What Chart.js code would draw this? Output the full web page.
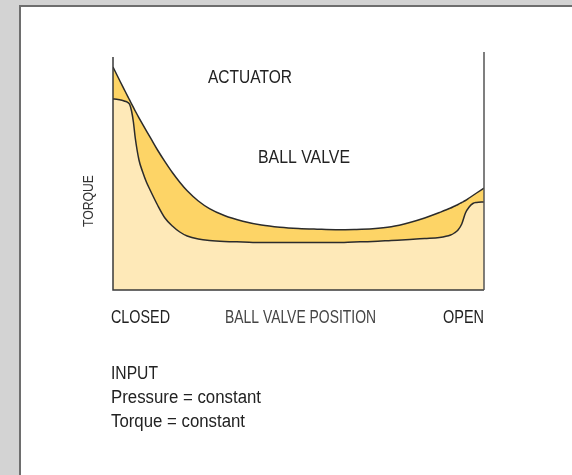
<!DOCTYPE html>
<html>
<head>
<meta charset="utf-8">
<script src="https://cdn.jsdelivr.net/npm/chart.js@4/dist/chart.umd.min.js"></script>
<style>
  html, body { margin: 0; padding: 0; background: #d3d3d3; }
  canvas { display: block; }
</style>
</head>
<body>
<canvas id="torqueChart" width="572" height="475"></canvas>
<script>
// valve position in % of travel, closed -> open
const positions = [0, 1, 2, 3, 4, 4.5, 5, 5.5, 6, 7, 8, 9, 10, 12, 14, 16, 18, 20, 23, 26,
    30, 35, 40, 45, 50, 55, 60, 65, 70, 75, 80, 84, 88, 91, 92, 93, 94, 95, 96, 97, 98, 100];
// torque (arbitrary units, 0 at the base line)
const actuatorTorque = [223, 215.5, 208, 200.7, 193.4, 189.8, 186.2, 182.6, 179, 172.2, 165.6, 159.1, 152.8, 140, 128.4, 117.5, 107.8, 99.2, 89, 81.4,
    74.5, 68.8, 65, 62.8, 61.5, 60.8, 60.3, 60.5, 61.2, 63.2, 67.5, 72, 77.5, 82, 83.8, 85.5, 87.5, 89.5, 92, 94.5, 97, 102];
const ballValveTorque = [191, 190.8, 190, 189, 187.5, 185.5, 179, 168, 152, 130, 118, 108, 100, 85, 72, 64, 58, 54, 51, 49.5,
    48.5, 48, 47.5, 47.5, 47.5, 47.5, 47.5, 48, 48.5, 49.5, 50.5, 51.5, 52.5, 55, 57, 60, 66, 77, 83, 86.5, 87.5, 88];
const xLabels = ['CLOSED', 'BALL VALVE POSITION', 'OPEN'];
const noteLines = ['INPUT', 'Pressure = constant', 'Torque = constant'];

const FONT = '"Liberation Sans", Arial, sans-serif';

// draws text squeezed to a given width (condensed look)
function fitText(ctx, text, x, y, w) {
    const m = ctx.measureText(text).width;
    ctx.save();
    ctx.translate(x, y);
    ctx.scale(w / m, 1);
    ctx.fillText(text, 0, 0);
    ctx.restore();
}

const toPoints = (ys) => positions.map((x, i) => ({ x: x, y: ys[i] }));

const panelPlugin = {
    id: 'panel',
    beforeDraw(chart) {
        const ctx = chart.ctx;
        ctx.save();
        ctx.fillStyle = '#d3d3d3';
        ctx.fillRect(0, 0, chart.width, chart.height);
        ctx.fillStyle = '#6e6e6e';
        ctx.fillRect(19, 5, chart.width - 19, chart.height - 5);
        ctx.fillStyle = '#ffffff';
        ctx.fillRect(21, 7, chart.width - 21, chart.height - 7);
        ctx.restore();
    },
    afterDatasetsDraw(chart) {
        const ctx = chart.ctx;
        const a = chart.chartArea;
        ctx.save();
        ctx.lineWidth = 1.5;
        ctx.strokeStyle = '#3a3a3a';
        ctx.beginPath();
        ctx.moveTo(a.left, a.top + 5);
        ctx.lineTo(a.left, a.bottom);
        ctx.lineTo(a.right, a.bottom);
        ctx.stroke();
        ctx.strokeStyle = '#555555';
        ctx.beginPath();
        ctx.moveTo(a.right, a.top);
        ctx.lineTo(a.right, a.bottom);
        ctx.stroke();
        ctx.restore();
    },
    afterDraw(chart) {
        const ctx = chart.ctx;
        ctx.save();
        ctx.fillStyle = '#222222';
        ctx.textBaseline = 'alphabetic';
        ctx.font = '18px ' + FONT;
        fitText(ctx, 'ACTUATOR', 208, 83, 84);
        fitText(ctx, 'BALL VALVE', 258, 163, 92);

        fitText(ctx, xLabels[0], 111, 323, 59);
        ctx.fillStyle = '#444444';
        fitText(ctx, xLabels[1], 225, 323, 151);
        ctx.fillStyle = '#222222';
        fitText(ctx, xLabels[2], 443, 323, 41);

        fitText(ctx, noteLines[0], 111, 379, 47);
        fitText(ctx, noteLines[1], 111, 403, 150);
        fitText(ctx, noteLines[2], 111, 427, 134);

        // rotated axis title
        ctx.fillStyle = '#333333';
        ctx.font = '15px ' + FONT;
        ctx.save();
        ctx.translate(93, 227);
        ctx.rotate(-Math.PI / 2);
        fitText(ctx, 'TORQUE', 0, 0, 52);
        ctx.restore();
        ctx.restore();
    }
};

new Chart(document.getElementById('torqueChart'), {
    type: 'line',
    data: {
        datasets: [
            {
                label: 'Ball valve',
                data: toPoints(ballValveTorque),
                borderColor: '#2b2b2b',
                borderWidth: 1.5,
                backgroundColor: '#fee9b8',
                fill: 'origin',
                pointRadius: 0,
                cubicInterpolationMode: 'monotone'
            },
            {
                label: 'Actuator',
                data: toPoints(actuatorTorque),
                borderColor: '#2b2b2b',
                borderWidth: 1.5,
                backgroundColor: '#fdd466',
                fill: '-1',
                pointRadius: 0,
                cubicInterpolationMode: 'monotone'
            }
        ]
    },
    options: {
        responsive: false,
        animation: false,
        devicePixelRatio: 1,
        layout: { padding: { left: 113, top: 52, right: 88, bottom: 185 } },
        scales: {
            x: { type: 'linear', min: 0, max: 100, display: false },
            y: { min: 0, max: 238, display: false }
        },
        plugins: {
            legend: { display: false },
            tooltip: { enabled: false }
        }
    },
    plugins: [panelPlugin]
});
</script>
</body>
</html>
